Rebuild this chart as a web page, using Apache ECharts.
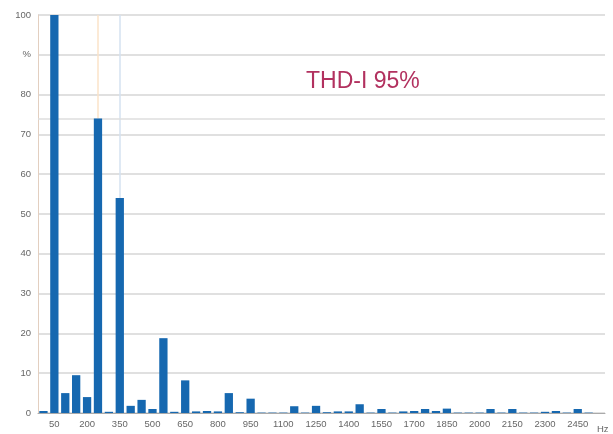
<!DOCTYPE html>
<html>
<head>
<meta charset="utf-8">
<script src="https://cdn.jsdelivr.net/npm/echarts@6/dist/echarts.min.js"></script>
<style>
html,body{margin:0;padding:0;background:#fff;}
#chart{width:613px;height:434px;}
</style>
</head>
<body>
<div id="chart"></div>
<script>
// Harmonic frequencies (Hz)
const categories = [0,50,100,150,200,250,300,350,400,450,500,550,600,650,700,750,800,850,900,950,
  1000,1050,1100,1150,1200,1250,1300,1350,1400,1450,1500,1550,1600,1650,1700,1750,1800,1850,1900,1950,
  2000,2050,2100,2150,2200,2250,2300,2350,2400,2450,2500,2550];
// Harmonic current (% of fundamental)
const values = [0.5,100,5,9.5,4,74,0.3,54,1.8,3.3,1,18.8,0.3,8.2,0.4,0.5,0.4,5,0.2,3.6,
  0.1,0.1,0.1,1.7,0.1,1.8,0.2,0.4,0.4,2.2,0.1,1.0,0.1,0.4,0.5,1.0,0.5,1.1,0.1,0.1,
  0.1,1.0,0.1,1.0,0.1,0.1,0.3,0.5,0.1,1.0,0.1,0];
const yTicks = [0,10,20,30,40,50,60,70,80,'%',100];
const titleText = 'THD-I 95%';
const refLevel = 74;
const refFreqs = ['250','350'];

const chart = echarts.init(document.getElementById('chart'));
chart.setOption({
  animation:false,
  backgroundColor:'#fff',
  title:{text:titleText,left:301,top:65,textStyle:{color:'#b2315f',fontSize:23,fontWeight:'normal',fontFamily:'Liberation Sans'}},
  grid:{left:38,right:8,top:15,bottom:14,containLabel:false},
  xAxis:{
    type:'category',
    data:categories.map(String),
    name:'Hz',nameLocation:'end',nameGap:-8,
    nameTextStyle:{color:'#666',fontSize:9.5,fontFamily:'Liberation Sans',verticalAlign:'top',padding:[11,0,0,0]},
    axisLine:{lineStyle:{color:'#aaa',width:1}},
    axisTick:{show:false},
    axisLabel:{interval:(i)=>i%3===1,color:'#666',fontSize:9.5,margin:6,fontFamily:'Liberation Sans'},
    splitLine:{show:false}
  },
  yAxis:{
    type:'value',min:0,max:100,interval:10,
    axisLine:{show:true,lineStyle:{color:'#e3cfc0',width:1}},
    axisTick:{show:false},
    axisLabel:{color:'#666',fontSize:9.5,margin:7,fontFamily:'Liberation Sans',formatter:(v)=>String(yTicks[Math.round(v/10)])},
    splitLine:{lineStyle:{color:'#d6d6d6',width:1.5}}
  },
  series:[
    {
      type:'line',data:[],zlevel:0,silent:true,
      markLine:{symbol:'none',silent:true,label:{show:false},
        data:[
          {xAxis:refFreqs[0],lineStyle:{color:'#fbe3c8',width:1.5,type:'solid'}},
          {xAxis:refFreqs[1],lineStyle:{color:'#d5e2f0',width:1.5,type:'solid'}},
          {yAxis:refLevel,lineStyle:{color:'#dedede',width:1.5,type:'solid'}}
        ]}
    },
    {
      type:'bar',data:values,zlevel:1,barWidth:'76%',
      itemStyle:{color:'#1668b0'}
    }
  ]
});
</script>
</body>
</html>
